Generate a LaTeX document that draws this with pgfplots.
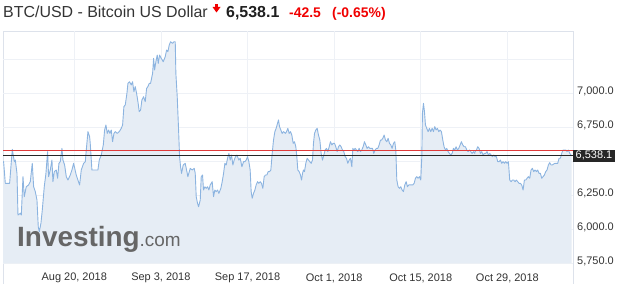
\documentclass[border=0pt]{standalone}
\usepackage{fontspec}
\setmainfont{Liberation Sans}
\usepackage{pgfplots}
\usepackage{pgfplotstable}
\pgfplotsset{compat=1.18}
\definecolor{linec}{HTML}{8CB4E0}
\definecolor{fillc}{HTML}{E6EDF5}
\definecolor{gridc}{HTML}{EEF1F6}
\definecolor{framec}{HTML}{DDE2EB}
\definecolor{txt}{HTML}{333333}
\definecolor{redl}{HTML}{E03A3A}
\definecolor{redt}{HTML}{F00000}
% day 0 = Aug 20, 2018 ; price in USD
\pgfplotstableread{
d p
-11.50 6495
-11.42 6495
-11.15 6336
-10.45 6336
-10.07 6556
-10.02 6586
-9.69 6495
-9.53 6507
-9.26 6409
-9.10 6103
-8.72 6115
-8.56 6103
-8.29 6385
-8.08 6238
-7.76 6311
-7.38 6324
-7.11 6348
-6.79 6483
-6.57 6311
-6.30 6275
-6.03 6213
-5.82 6017
-5.66 5980
-5.39 6042
-5.17 6140
-4.85 6311
-4.58 6409
-4.31 6569
-4.15 6385
-3.88 6434
-3.61 6507
-3.45 6348
-3.23 6422
-2.91 6434
-2.69 6373
-2.48 6483
-2.26 6495
-1.99 6593
-1.83 6507
-1.56 6471
-1.29 6385
-1.02 6360
-0.65 6397
-0.38 6434
-0.11 6483
0.32 6397
0.86 6324
1.13 6434
1.51 6483
1.78 6495
1.94 6581
2.21 6716
2.48 6679
2.58 6630
2.85 6434
3.39 6434
3.82 6434
4.04 6507
4.36 6544
4.69 6618
4.90 6728
5.12 6765
5.33 6703
5.55 6728
5.76 6703
5.98 6728
6.19 6642
6.41 6703
6.62 6716
6.95 6703
7.27 6716
7.59 6740
7.81 6765
8.02 6900
8.24 6912
8.51 6998
8.67 7071
8.94 7083
9.21 7059
9.42 7083
9.64 7010
9.85 7047
10.07 6998
10.29 6936
10.50 6863
10.72 6875
10.93 6949
11.20 6973
11.47 6936
11.69 7034
11.90 7047
12.12 7071
12.33 7071
12.66 7145
12.82 7255
12.98 7169
13.19 7230
13.41 7279
13.57 7218
13.79 7279
14.06 7255
14.38 7230
14.70 7267
14.92 7316
15.13 7304
15.35 7353
15.56 7377
15.89 7365
16.10 7377
16.32 7377
16.42 7145
16.64 6973
16.86 6728
17.02 6532
17.18 6458
17.34 6409
17.61 6471
17.93 6483
18.15 6434
18.36 6385
18.74 6446
19.06 6434
19.39 6446
19.55 6409
19.71 6238
19.92 6189
20.09 6164
20.36 6213
20.52 6385
20.73 6397
20.89 6287
21.11 6311
21.32 6299
21.54 6311
21.76 6287
21.97 6324
22.29 6348
22.51 6238
22.72 6287
22.94 6275
23.16 6287
23.37 6262
23.69 6299
23.91 6348
24.13 6409
24.34 6483
24.56 6471
24.77 6520
24.99 6556
25.20 6507
25.42 6544
25.63 6471
25.85 6507
26.06 6532
26.28 6544
26.60 6507
26.82 6520
27.09 6458
27.36 6495
27.57 6495
27.79 6507
28.00 6532
28.22 6495
28.43 6434
28.59 6275
28.76 6226
28.97 6262
29.19 6287
29.40 6324
29.62 6348
29.83 6336
30.05 6348
30.26 6336
30.48 6299
30.69 6385
30.91 6397
31.13 6397
31.34 6422
31.56 6422
31.77 6434
31.99 6556
32.20 6654
32.42 6716
32.63 6740
32.85 6777
33.01 6802
33.17 6753
33.39 6728
33.60 6703
33.82 6716
34.14 6703
34.30 6716
34.52 6740
34.73 6703
34.95 6716
35.16 6691
35.38 6630
35.59 6642
35.81 6605
35.97 6532
36.13 6434
36.35 6422
36.56 6397
36.73 6360
36.89 6409
37.05 6434
37.21 6422
37.42 6483
37.64 6520
37.86 6507
38.07 6495
38.29 6483
38.50 6507
38.66 6630
38.83 6703
39.04 6728
39.26 6740
39.47 6691
39.69 6654
39.90 6556
40.12 6507
40.33 6544
40.55 6581
40.76 6593
40.98 6569
41.20 6605
41.41 6642
41.63 6618
41.84 6630
42.06 6630
42.27 6605
42.49 6569
42.70 6605
42.92 6618
43.13 6605
43.35 6581
43.56 6569
43.78 6532
44.00 6520
44.21 6483
44.43 6507
44.64 6520
44.86 6458
45.02 6593
45.18 6581
45.40 6593
45.61 6581
45.83 6569
46.04 6593
46.26 6569
46.47 6581
46.69 6605
46.90 6642
47.12 6618
47.33 6593
47.55 6605
47.76 6593
47.98 6593
48.20 6593
48.41 6556
48.63 6581
48.84 6593
49.06 6593
49.27 6618
49.49 6654
49.65 6654
49.87 6667
50.08 6691
50.30 6654
50.51 6642
50.73 6667
50.94 6630
51.16 6618
51.37 6593
51.59 6630
51.80 6642
51.97 6581
52.13 6360
52.34 6311
52.56 6299
52.77 6311
52.99 6287
53.20 6275
53.42 6324
53.64 6348
53.85 6311
54.07 6324
54.39 6324
54.71 6324
54.93 6336
55.14 6373
55.36 6385
55.57 6373
55.79 6385
56.00 6360
56.17 6532
56.27 6851
56.44 6924
56.60 6863
56.76 6765
56.97 6740
57.19 6716
57.40 6740
57.62 6716
57.84 6740
58.05 6716
58.27 6753
58.48 6728
58.70 6740
58.91 6716
59.13 6728
59.34 6716
59.56 6655
59.77 6605
59.99 6581
60.20 6593
60.42 6569
60.64 6556
60.85 6544
61.07 6556
61.28 6593
61.50 6581
61.71 6605
61.93 6581
62.14 6593
62.36 6618
62.57 6642
62.79 6618
63.01 6605
63.22 6605
63.44 6581
63.65 6569
63.87 6581
64.08 6569
64.30 6556
64.51 6569
64.73 6556
64.78 6569
65.00 6581
65.21 6605
65.43 6593
65.64 6556
65.86 6569
66.07 6544
66.29 6556
66.50 6556
66.72 6569
66.94 6544
67.15 6556
67.37 6544
67.58 6532
67.80 6544
68.01 6532
68.23 6532
68.44 6495
68.66 6495
68.87 6507
69.09 6483
69.30 6495
69.52 6483
69.74 6495
69.95 6483
70.17 6495
70.38 6360
70.60 6348
70.81 6360
71.03 6360
71.24 6348
71.46 6360
71.67 6348
71.89 6336
72.10 6336
72.32 6324
72.54 6287
72.75 6360
72.97 6360
73.18 6373
73.40 6385
73.61 6373
73.83 6434
74.04 6446
74.26 6422
74.47 6434
74.69 6422
74.90 6434
75.12 6409
75.34 6409
75.55 6373
75.77 6385
75.98 6397
76.20 6422
76.41 6434
76.63 6471
76.84 6488
77.06 6471
77.27 6471
77.49 6478
77.70 6483
77.92 6483
78.14 6483
78.35 6520
78.57 6520
78.78 6556
79.00 6581
79.21 6581
79.43 6581
79.64 6569
79.86 6581
80.08 6556
80.29 6544
80.40 6538.1
}\btc
\begin{document}
\begin{tikzpicture}[x=1bp,y=1bp]
\useasboundingbox (0,0) rectangle (620,284);
% frame
\draw[framec, line width=0.8bp] (3,0) -- (3,253) -- (573,253) -- (573,0);
\begin{axis}[
  at={(3bp,21bp)}, anchor=south west,
  scale only axis, width=570bp, height=232bp,
  xmin=-11.52, xmax=80.61, ymin=5750, ymax=7456,
  axis line style={draw=none},
  tick style={draw=none},
  grid=major, grid style={gridc, line width=0.7bp},
  xtick={0,14,28,42,56,70},
  xticklabels={{Aug 20, 2018},{Sep 3, 2018},{Sep 17, 2018},{Oct 1, 2018},{Oct 15, 2018},{Oct 29, 2018}},
  xticklabel style={anchor=center, yshift=-15bp, inner sep=0pt, text=txt, font=\fontsize{11}{13}\selectfont},
  ytick={5750,6000,6250,6500,6750,7000,7250},
  yticklabels={{5,750.0},{6,000.0},{6,250.0},{},{6,750.0},{7,000.0},{}},
  yticklabel pos=right,
  yticklabel style={anchor=west, inner sep=0pt, xshift=4bp, yshift=1.5bp, text=txt, font=\fontsize{11}{13}\selectfont},
  clip=true,
]
\addplot[draw=none, fill=fillc] table[x=d, y=p] {\btc} \closedcycle;
\node[anchor=base west, inner sep=0pt, text=black!60] at (rel axis cs:0.0246,0.069)
  {\fontsize{28}{30}\selectfont\bfseries Investing{\fontsize{19}{20}\selectfont\mdseries .com}};
\addplot[linec, line width=0.9bp, line join=round] table[x=d, y=p] {\btc};
\addplot[redl, line width=0.9bp] coordinates {(-11.52,6580.6) (80.61,6580.6)};
\addplot[black!85, line width=0.9bp] coordinates {(-11.52,6538.1) (80.61,6538.1)};
\coordinate (lab) at (axis cs:80.61,6538.1);
\end{axis}
\node[anchor=west, fill=black!85, text=white, inner xsep=2.5bp, inner ysep=0pt, minimum height=12bp,
  font=\fontsize{11}{12}\selectfont] at (lab) {6,538.1};
% header
\node[anchor=base west, inner sep=0pt, text=txt, font=\fontsize{16}{18}\selectfont] at (3,266.5) {BTC/USD - Bitcoin US Dollar};
\fill[redt] (212.5,277) -- (220.5,277) -- (216.5,271.5) -- cycle;
\fill[redt] (214.8,276.5) rectangle (218.2,280);
\node[anchor=base west, inner sep=0pt, text=black!88, font=\fontsize{16}{18}\selectfont\bfseries] at (226,266.5) {6,538.1};
\node[anchor=base west, inner sep=0pt, text=redt, font=\fontsize{14}{16}\selectfont\bfseries] at (289,266.5) {-42.5};
\node[anchor=base west, inner sep=0pt, text=redt, font=\fontsize{14}{16}\selectfont\bfseries] at (332,266.5) {(-0.65\%)};
\end{tikzpicture}
\end{document}
